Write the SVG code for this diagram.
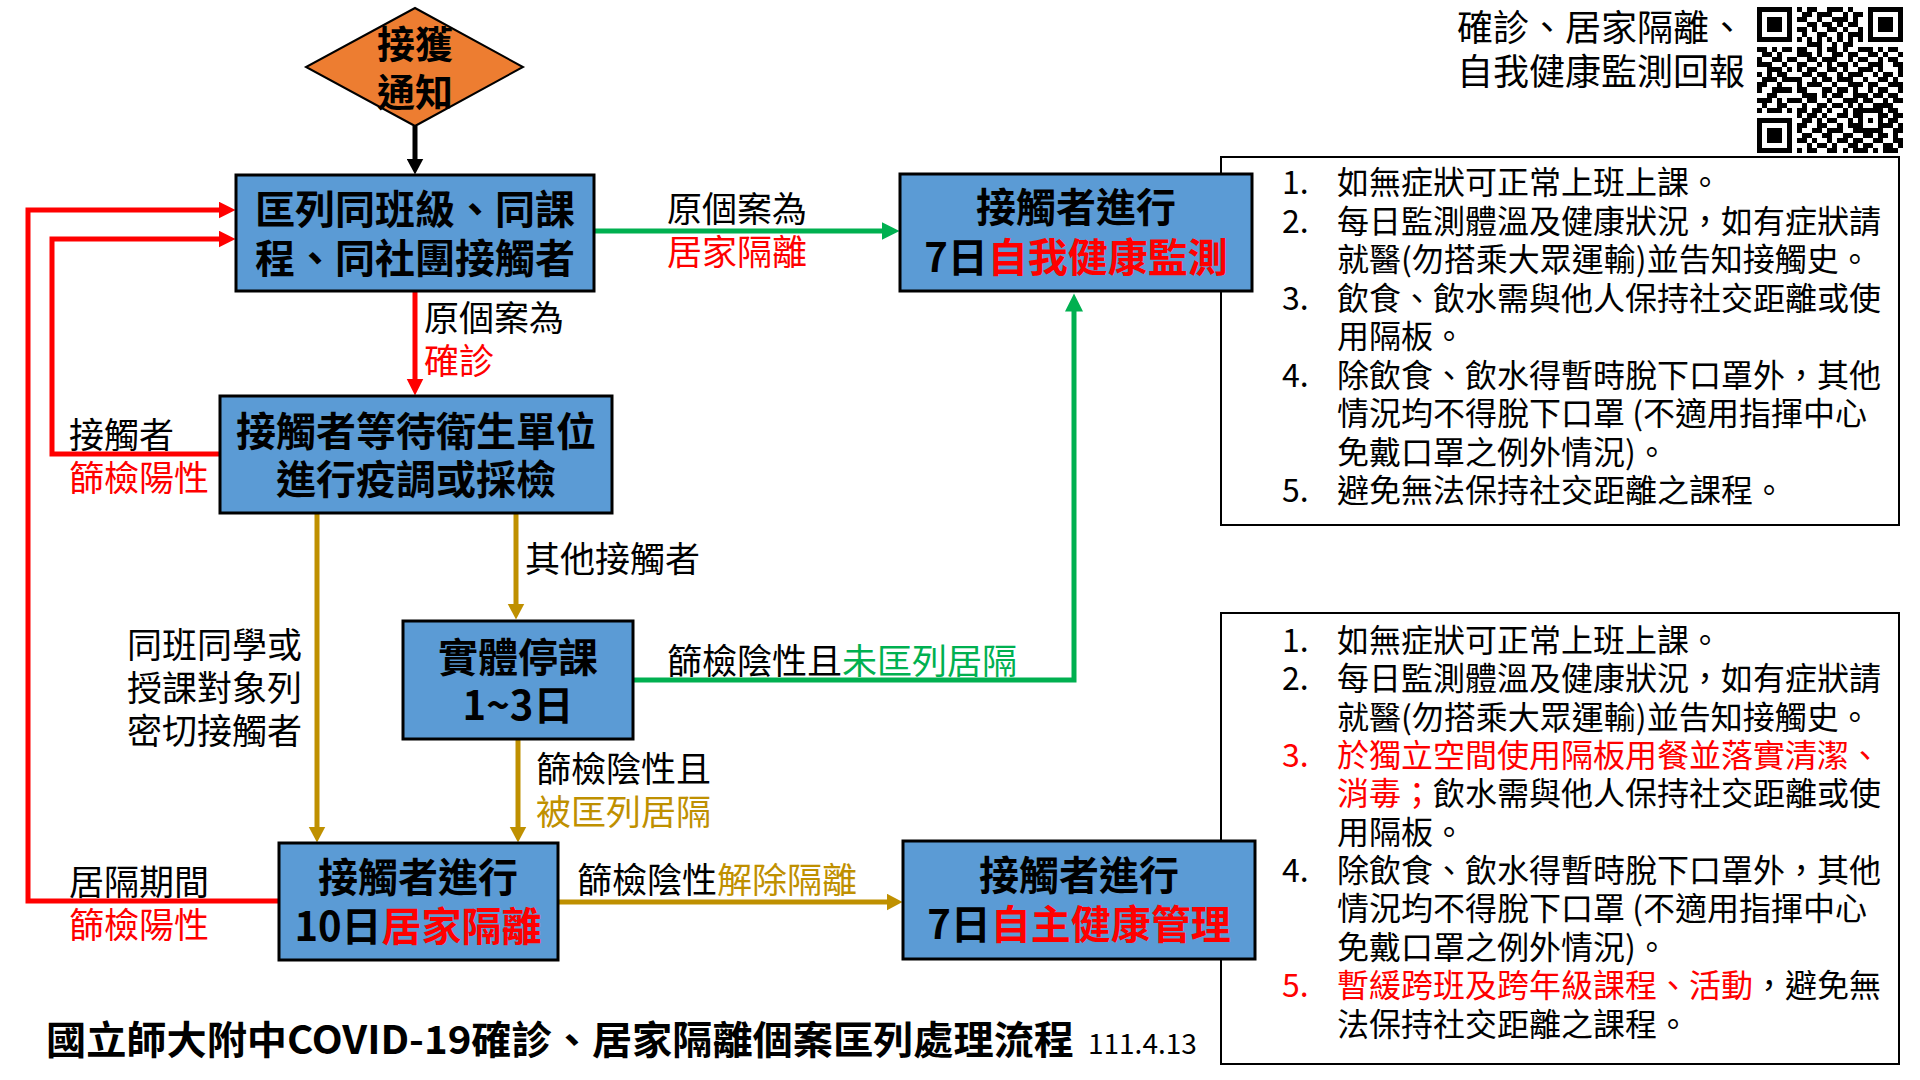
<svg xmlns="http://www.w3.org/2000/svg" width="1920" height="1080" viewBox="0 0 1920 1080">
<style>
text{font-family:"Noto Sans CJK TC","Noto Sans CJK SC",sans-serif;fill:#000}
.node{fill:#5B9BD5;stroke:#000;stroke-width:3}
.nt{font-size:40px;font-weight:bold;text-anchor:middle}
.lb{font-size:35px}
.nb{font-size:32px}
.r{fill:#FF0000}
.g{fill:#00B050}
.y{fill:#BF9000}
.note{fill:#fff;stroke:#000;stroke-width:2}
.c{fill:none;stroke-width:5}
</style>
<defs>
<marker id="mk" markerWidth="17" markerHeight="17" refX="0.5" refY="8.5" orient="auto" markerUnits="userSpaceOnUse"><path d="M0,0 L16,8.5 L0,17 z" fill="#000"/></marker>
<marker id="mr" markerWidth="18" markerHeight="18" refX="0.5" refY="8.5" orient="auto" markerUnits="userSpaceOnUse"><path d="M0,0 L17,8.5 L0,17 z" fill="#FF0000"/></marker>
<marker id="mg" markerWidth="19" markerHeight="19" refX="0.5" refY="9" orient="auto" markerUnits="userSpaceOnUse"><path d="M0,0 L18,9 L0,18 z" fill="#00B050"/></marker>
<marker id="my" markerWidth="17" markerHeight="18" refX="0.5" refY="8.5" orient="auto" markerUnits="userSpaceOnUse"><path d="M0,0 L16,8.5 L0,17 z" fill="#BF9000"/></marker>
</defs>

<g id="note1">
<rect class="note" x="1221" y="157" width="678" height="368"/>
<text class="nb" x="1282" y="194">1.</text><text class="nb" x="1337" y="194">如無症狀可正常上班上課。</text>
<text class="nb" x="1282" y="232.5">2.</text><text class="nb" x="1337" y="232.5">每日監測體溫及健康狀況，如有症狀請</text>
<text class="nb" x="1337" y="271">就醫(勿搭乘大眾運輸)並告知接觸史。</text>
<text class="nb" x="1282" y="309.5">3.</text><text class="nb" x="1337" y="309.5">飲食、飲水需與他人保持社交距離或使</text>
<text class="nb" x="1337" y="348">用隔板。</text>
<text class="nb" x="1282" y="386.5">4.</text><text class="nb" x="1337" y="386.5">除飲食、飲水得暫時脫下口罩外，其他</text>
<text class="nb" x="1337" y="425">情況均不得脫下口罩 (不適用指揮中心</text>
<text class="nb" x="1337" y="463.5">免戴口罩之例外情況)。</text>
<text class="nb" x="1282" y="502">5.</text><text class="nb" x="1337" y="502">避免無法保持社交距離之課程。</text>
</g>

<g id="note2">
<rect class="note" x="1221" y="613" width="678" height="451"/>
<text class="nb" x="1282" y="651.5">1.</text><text class="nb" x="1337" y="651.5">如無症狀可正常上班上課。</text>
<text class="nb" x="1282" y="690">2.</text><text class="nb" x="1337" y="690">每日監測體溫及健康狀況，如有症狀請</text>
<text class="nb" x="1337" y="728.5">就醫(勿搭乘大眾運輸)並告知接觸史。</text>
<text class="nb r" x="1282" y="766.5">3.</text><text class="nb r" x="1337" y="766.5">於獨立空間使用隔板用餐並落實清潔、</text>
<text class="nb" x="1337" y="805"><tspan class="r">消毒；</tspan>飲水需與他人保持社交距離或使</text>
<text class="nb" x="1337" y="843.5">用隔板。</text>
<text class="nb" x="1282" y="882">4.</text><text class="nb" x="1337" y="882">除飲食、飲水得暫時脫下口罩外，其他</text>
<text class="nb" x="1337" y="920">情況均不得脫下口罩 (不適用指揮中心</text>
<text class="nb" x="1337" y="958.5">免戴口罩之例外情況)。</text>
<text class="nb r" x="1282" y="997">5.</text><text class="nb" x="1337" y="997"><tspan class="r">暫緩跨班及跨年級課程、活動</tspan>，避免無</text>
<text class="nb" x="1337" y="1035.5">法保持社交距離之課程。</text>
</g>

<g id="connectors">
<path class="c" d="M415,126 V159" stroke="#000" stroke-width="4" marker-end="url(#mk)"/>
<path class="c" d="M594,231 H882" stroke="#00B050" marker-end="url(#mg)"/>
<path class="c" d="M415,292 V379" stroke="#FF0000" marker-end="url(#mr)"/>
<path class="c" d="M279,901 H28 V210 H219" stroke="#FF0000" marker-end="url(#mr)"/>
<path class="c" d="M220,454 H52 V239 H219" stroke="#FF0000" marker-end="url(#mr)"/>
<path class="c" d="M317,513 V827" stroke="#BF9000" stroke-width="4" marker-end="url(#my)"/>
<path class="c" d="M516,513 V604" stroke="#BF9000" stroke-width="4" marker-end="url(#my)"/>
<path class="c" d="M518,739 V827" stroke="#BF9000" stroke-width="4" marker-end="url(#my)"/>
<path class="c" d="M633,680 H1074 V311" stroke="#00B050" marker-end="url(#mg)"/>
<path class="c" d="M558,902 H887" stroke="#BF9000" marker-end="url(#my)"/>
<text class="lb" x="667" y="222">原個案為</text>
<text class="lb r" x="667" y="265">居家隔離</text>
<text class="lb" x="424" y="331">原個案為</text>
<text class="lb r" x="424" y="374">確診</text>
<text class="lb" x="69" y="448">接觸者</text>
<text class="lb r" x="69" y="491">篩檢陽性</text>
<text class="lb" x="525" y="572">其他接觸者</text>
<text class="lb" x="127" y="658">同班同學或</text>
<text class="lb" x="127" y="701">授課對象列</text>
<text class="lb" x="127" y="744">密切接觸者</text>
<text class="lb" x="667" y="674">篩檢陰性且<tspan class="g">未匡列居隔</tspan></text>
<text class="lb" x="536" y="782">篩檢陰性且</text>
<text class="lb y" x="536" y="825">被匡列居隔</text>
<text class="lb" x="69" y="895">居隔期間</text>
<text class="lb r" x="69" y="938">篩檢陽性</text>
<text class="lb" x="577" y="893">篩檢陰性<tspan class="y">解除隔離</tspan></text>
</g>

<g id="start">
<polygon points="415,8 523,67 415,126 306,67" fill="#ED7D31" stroke="#000" stroke-width="2"/>
<text x="415" y="58" font-size="38" font-weight="bold" text-anchor="middle">接獲</text>
<text x="415" y="106" font-size="38" font-weight="bold" text-anchor="middle">通知</text>
</g>

<g id="n1">
<rect class="node" x="236" y="175" width="358" height="116"/>
<text class="nt" x="415" y="224">匡列同班級、同課</text>
<text class="nt" x="415" y="273">程、同社團接觸者</text>
</g>

<g id="n2">
<rect class="node" x="220" y="396" width="392" height="117"/>
<text class="nt" x="416" y="446">接觸者等待衛生單位</text>
<text class="nt" x="416" y="494">進行疫調或採檢</text>
</g>

<g id="n3">
<rect class="node" x="900" y="174" width="352" height="117"/>
<text class="nt" x="1076" y="222">接觸者進行</text>
<text class="nt" x="1076" y="272">7日<tspan class="r">自我健康監測</tspan></text>
</g>

<g id="n4">
<rect class="node" x="403" y="621" width="230" height="118"/>
<text class="nt" x="518" y="672">實體停課</text>
<text class="nt" x="518" y="720">1~3日</text>
</g>

<g id="n5">
<rect class="node" x="279" y="843" width="279" height="117"/>
<text class="nt" x="418" y="892">接觸者進行</text>
<text class="nt" x="418" y="941">10日<tspan class="r">居家隔離</tspan></text>
</g>

<g id="n6">
<rect class="node" x="903" y="841" width="352" height="118"/>
<text class="nt" x="1079" y="890">接觸者進行</text>
<text class="nt" x="1079" y="939">7日<tspan class="r">自主健康管理</tspan></text>
</g>

<g id="report">
<text x="1457" y="41" font-size="36">確診、居家隔離、</text>
<text x="1457" y="84.5" font-size="36">自我健康監測回報</text>
<path transform="translate(1757,7) scale(5.03)" fill="#000" shape-rendering="crispEdges" d="
M0 0h7v1h-7zM8 0h1v1h-1zM10 0h2v1h-2zM14 0h3v1h-3zM18 0h1v1h-1zM22 0h7v1h-7z
M0 1h1v1h-1zM6 1h1v1h-1zM9 1h2v1h-2zM12 1h3v1h-3zM17 1h1v1h-1zM19 1h2v1h-2zM22 1h1v1h-1zM28 1h1v1h-1z
M0 2h1v1h-1zM2 2h3v1h-3zM6 2h1v1h-1zM8 2h2v1h-2zM12 2h1v1h-1zM15 2h3v1h-3zM19 2h1v1h-1zM22 2h1v1h-1zM24 2h3v1h-3zM28 2h1v1h-1z
M0 3h1v1h-1zM2 3h3v1h-3zM6 3h1v1h-1zM10 3h2v1h-2zM13 3h2v1h-2zM16 3h1v1h-1zM18 3h2v1h-2zM22 3h1v1h-1zM24 3h3v1h-3zM28 3h1v1h-1z
M0 4h1v1h-1zM2 4h3v1h-3zM6 4h1v1h-1zM8 4h2v1h-2zM11 4h1v1h-1zM14 4h2v1h-2zM17 4h1v1h-1zM20 4h1v1h-1zM22 4h1v1h-1zM24 4h3v1h-3zM28 4h1v1h-1z
M0 5h1v1h-1zM6 5h1v1h-1zM9 5h1v1h-1zM12 5h2v1h-2zM16 5h1v1h-1zM18 5h3v1h-3zM22 5h1v1h-1zM28 5h1v1h-1z
M0 6h7v1h-7zM8 6h1v1h-1zM10 6h1v1h-1zM12 6h1v1h-1zM14 6h1v1h-1zM16 6h1v1h-1zM18 6h1v1h-1zM20 6h1v1h-1zM22 6h7v1h-7z
M10 7h3v1h-3zM15 7h1v1h-1zM17 7h2v1h-2z
M0 8h2v1h-2zM3 8h1v1h-1zM5 8h2v1h-2zM8 8h2v1h-2zM12 8h1v1h-1zM14 8h2v1h-2zM17 8h1v1h-1zM20 8h3v1h-3zM24 8h1v1h-1zM26 8h2v1h-2z
M1 9h2v1h-2zM4 9h1v1h-1zM8 9h3v1h-3zM12 9h1v1h-1zM15 9h2v1h-2zM18 9h2v1h-2zM22 9h2v1h-2zM25 9h1v1h-1zM28 9h1v1h-1z
M0 10h1v1h-1zM3 10h2v1h-2zM6 10h2v1h-2zM10 10h2v1h-2zM13 10h3v1h-3zM18 10h1v1h-1zM20 10h2v1h-2zM24 10h1v1h-1zM26 10h2v1h-2z
M0 11h3v1h-3zM5 11h1v1h-1zM8 11h2v1h-2zM12 11h1v1h-1zM14 11h1v1h-1zM16 11h2v1h-2zM19 11h1v1h-1zM22 11h3v1h-3zM27 11h2v1h-2z
M2 12h3v1h-3zM6 12h1v1h-1zM8 12h1v1h-1zM10 12h2v1h-2zM14 12h2v1h-2zM17 12h1v1h-1zM20 12h3v1h-3zM24 12h1v1h-1zM28 12h1v1h-1z
M0 13h1v1h-1zM2 13h1v1h-1zM4 13h2v1h-2zM9 13h2v1h-2zM12 13h2v1h-2zM16 13h1v1h-1zM18 13h3v1h-3zM23 13h1v1h-1zM25 13h2v1h-2zM28 13h1v1h-1z
M1 14h3v1h-3zM5 14h4v1h-4zM11 14h1v1h-1zM13 14h2v1h-2zM16 14h3v1h-3zM21 14h1v1h-1zM24 14h2v1h-2zM27 14h1v1h-1z
M0 15h2v1h-2zM4 15h1v1h-1zM8 15h1v1h-1zM10 15h3v1h-3zM15 15h1v1h-1zM18 15h3v1h-3zM22 15h2v1h-2zM26 15h3v1h-3z
M0 16h1v1h-1zM3 16h4v1h-4zM8 16h2v1h-2zM13 16h2v1h-2zM16 16h2v1h-2zM19 16h1v1h-1zM22 16h1v1h-1zM24 16h2v1h-2zM28 16h1v1h-1z
M2 17h2v1h-2zM9 17h3v1h-3zM13 17h1v1h-1zM15 17h2v1h-2zM19 17h3v1h-3zM23 17h2v1h-2zM26 17h2v1h-2z
M0 18h3v1h-3zM4 18h1v1h-1zM6 18h3v1h-3zM10 18h2v1h-2zM14 18h1v1h-1zM17 18h3v1h-3zM21 18h2v1h-2zM25 18h1v1h-1zM27 18h2v1h-2z
M1 19h1v1h-1zM4 19h2v1h-2zM9 19h1v1h-1zM12 19h2v1h-2zM15 19h2v1h-2zM18 19h1v1h-1zM20 19h1v1h-1zM23 19h4v1h-4z
M0 20h1v1h-1zM2 20h3v1h-3zM6 20h1v1h-1zM8 20h2v1h-2zM11 20h2v1h-2zM14 20h1v1h-1zM17 20h1v1h-1zM19 20h6v1h-6zM26 20h2v1h-2z
M8 21h1v1h-1zM10 21h2v1h-2zM13 21h1v1h-1zM16 21h2v1h-2zM19 21h2v1h-2zM24 21h2v1h-2zM27 21h2v1h-2z
M0 22h7v1h-7zM9 22h2v1h-2zM12 22h1v1h-1zM14 22h2v1h-2zM18 22h1v1h-1zM20 22h1v1h-1zM22 22h1v1h-1zM24 22h1v1h-1zM26 22h2v1h-2z
M0 23h1v1h-1zM6 23h1v1h-1zM8 23h2v1h-2zM12 23h2v1h-2zM16 23h1v1h-1zM18 23h3v1h-3zM24 23h3v1h-3zM28 23h1v1h-1z
M0 24h1v1h-1zM2 24h3v1h-3zM6 24h1v1h-1zM8 24h1v1h-1zM11 24h2v1h-2zM14 24h3v1h-3zM19 24h6v1h-6zM27 24h2v1h-2z
M0 25h1v1h-1zM2 25h3v1h-3zM6 25h1v1h-1zM9 25h2v1h-2zM13 25h2v1h-2zM17 25h2v1h-2zM21 25h2v1h-2zM24 25h2v1h-2zM27 25h1v1h-1z
M0 26h1v1h-1zM2 26h3v1h-3zM6 26h1v1h-1zM8 26h2v1h-2zM11 26h1v1h-1zM14 26h1v1h-1zM16 26h2v1h-2zM19 26h2v1h-2zM23 26h2v1h-2zM27 26h2v1h-2z
M0 27h1v1h-1zM6 27h1v1h-1zM10 27h1v1h-1zM12 27h2v1h-2zM15 27h1v1h-1zM18 27h2v1h-2zM21 27h2v1h-2zM25 27h2v1h-2zM28 27h1v1h-1z
M0 28h7v1h-7zM8 28h1v1h-1zM10 28h2v1h-2zM14 28h2v1h-2zM17 28h1v1h-1zM19 28h3v1h-3zM23 28h1v1h-1zM25 28h3v1h-3z"/>
</g>

<g id="title">
<text x="46" y="1054" font-size="39" font-weight="bold" textLength="1028" lengthAdjust="spacingAndGlyphs">國立師大附中COVID-19確診、居家隔離個案匡列處理流程</text>
<text x="1088" y="1054" font-size="28" font-family="Liberation Sans, sans-serif">111.4.13</text>
</g>
</svg>
